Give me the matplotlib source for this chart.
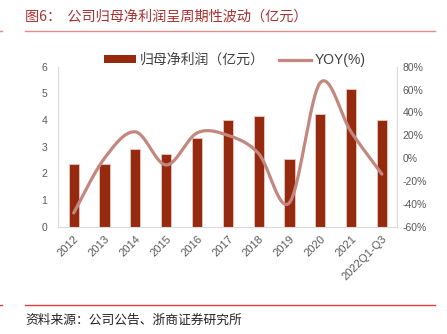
import matplotlib
matplotlib.use("Agg")
import matplotlib.pyplot as plt
import numpy as np
from matplotlib.lines import Line2D
from matplotlib.patches import Patch

plt.rcParams['font.family'] = ['Liberation Sans', 'Noto Sans CJK SC', 'DejaVu Sans']

# 年份与数据
years = ["2012", "2013", "2014", "2015", "2016", "2017", "2018", "2019",
         "2020", "2021", "2022Q1-Q3"]
profit = [2.34, 2.35, 2.90, 2.74, 3.34, 3.99, 4.15, 2.55, 4.21, 5.15, 4.00]
yoy = [-48, 0, 23, -6, 22, 20, 4, -39, 66, 23, -14]

bar_color = "#952A0E"
line_color = "#C4877F"
tick_color = "#595959"
cjk = ['Noto Sans CJK SC', 'DejaVu Sans']


def smooth(xs, ys, n=30):
    # 平滑曲线（三次贝塞尔，类似Excel的平滑线）
    xs = np.asarray(xs, float)
    ys = np.asarray(ys, float)
    px, py = [], []
    for i in range(len(xs) - 1):
        x0, y0 = (xs[i - 1], ys[i - 1]) if i > 0 else (xs[i], ys[i])
        x1, y1 = xs[i], ys[i]
        x2, y2 = xs[i + 1], ys[i + 1]
        x3, y3 = (xs[i + 2], ys[i + 2]) if i + 2 < len(xs) else (x2, y2)
        c1x, c1y = x1 + (x2 - x0) / 6, y1 + (y2 - y0) / 6
        c2x, c2y = x2 - (x3 - x1) / 6, y2 - (y3 - y1) / 6
        t = np.linspace(0, 1, n)
        px.append((1-t)**3*x1 + 3*(1-t)**2*t*c1x + 3*(1-t)*t**2*c2x + t**3*x2)
        py.append((1-t)**3*y1 + 3*(1-t)**2*t*c1y + 3*(1-t)*t**2*c2y + t**3*y2)
    return np.concatenate(px), np.concatenate(py)


W, H = 447, 334
fig = plt.figure(figsize=(W / 100, H / 100), dpi=100)

ax = fig.add_axes([58.3 / W, (H - 226.7) / H, (397.3 - 58.3) / W, 160 / H])
x = np.arange(len(years))
ax.bar(x, profit, width=0.33, color=bar_color, edgecolor="#EBC9C2",
       linewidth=0.6, zorder=2)
ax.set_xlim(-0.5, len(years) - 0.5)
ax.set_ylim(0, 6)
ax.set_yticks(range(0, 7))
ax.set_xticks(x)
ax.set_xticklabels(years, rotation=45, ha="right", rotation_mode="anchor")
ax.tick_params(axis="both", length=0, colors=tick_color)
ax.tick_params(axis="y", pad=8, labelsize=7.5)
ax.tick_params(axis="x", pad=5, labelsize=8)
for s in ["left", "bottom", "right"]:
    ax.spines[s].set_color("#D9D9D9")
    ax.spines[s].set_linewidth(0.8)
ax.spines["top"].set_visible(False)

ax2 = ax.twinx()
sx, sy = smooth(x, yoy)
ax2.plot(sx, sy, color=line_color, linewidth=2.3, solid_capstyle="round")
ax2.set_ylim(-60, 80)
ax2.set_yticks(range(-60, 81, 20))
ax2.set_yticklabels([f"{v}%" for v in range(-60, 81, 20)])
ax2.tick_params(axis="y", length=0, labelsize=7.5, colors=tick_color, pad=4)
for s in ax2.spines.values():
    s.set_visible(False)

# 图例
handles = [Patch(facecolor=bar_color, edgecolor="none"),
           Line2D([0], [0], color=line_color, linewidth=2.3)]
leg = fig.legend(handles, ["归母净利润（亿元）", "YOY(%)"], loc="center",
                 bbox_to_anchor=(0.525, 1 - 60 / H), ncol=2, frameon=False,
                 handlelength=2.3, handleheight=0.45,
                 handletextpad=0.3, columnspacing=1.0,
                 prop={"family": ['Liberation Sans', 'Noto Sans CJK SC'],
                       "size": 10})
for t in leg.get_texts():
    t.set_color("#404040")

# 标题与来源
fig.text(25 / W, 1 - 17 / H, "图6：  公司归母净利润呈周期性波动（亿元）",
         family=cjk, fontsize=10.2, color="#A63232", va="center", ha="left")
fig.add_artist(Line2D([25 / W, 435 / W], [1 - 31 / H] * 2,
                      color="#E08A8A", linewidth=1.0))
fig.add_artist(Line2D([0, 2 / W], [1 - 31 / H] * 2,
                      color="#E08A8A", linewidth=1.0))
fig.add_artist(Line2D([25 / W, 435 / W], [1 - 305 / H] * 2,
                      color="#E04040", linewidth=1.0))
fig.add_artist(Line2D([0, 2 / W], [1 - 305 / H] * 2,
                      color="#E04040", linewidth=1.0))
fig.text(25 / W, 1 - 320 / H, "资料来源：公司公告、浙商证券研究所",
         family=cjk, fontsize=9.2, color="#222222", va="center", ha="left")

fig.savefig("out.png", dpi=100)
